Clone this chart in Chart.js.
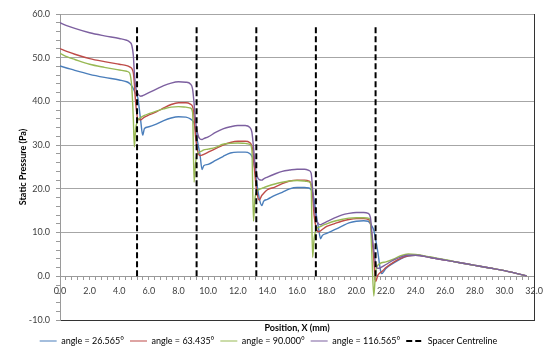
<!DOCTYPE html>
<html>
<head>
<meta charset="utf-8">
<script src="https://cdn.jsdelivr.net/npm/chart.js@4/dist/chart.umd.min.js"></script>
<style>
  html, body { margin: 0; padding: 0; background: #fff; }
  #wrap { width: 549px; height: 358px; position: relative; }
</style>
</head>
<body>
<div id="wrap"><canvas id="pressureChart"></canvas></div>
<script>
// posições ao longo do canal (mm), comuns às quatro séries
const positionMm = [
  0, 0.5, 1.0, 2.0, 3.0, 4.0, 4.5, 4.7, 4.85, 4.95, 5.02, 5.1, 5.25, 5.45, 5.58, 5.7,
  6.0, 6.5, 7.0, 7.5, 8.0, 8.5, 8.8, 8.95, 9.05, 9.15, 9.3, 9.45, 9.59, 9.7,
  10.0, 10.5, 11.0, 11.5, 12.0, 12.5, 12.8, 12.95, 13.06, 13.15, 13.3, 13.45, 13.62, 13.75,
  14.0, 14.5, 15.0, 15.5, 16.0, 16.5, 16.8, 16.95, 17.05, 17.15, 17.3, 17.45, 17.59, 17.7,
  18.0, 18.5, 19.0, 19.5, 20.0, 20.5, 20.8, 20.95, 21.05, 21.18, 21.3, 21.45, 21.6, 21.7,
  22.0, 22.5, 23.0, 23.5, 24.0, 25.0, 26.0, 27.0, 28.0, 29.0, 30.0, 31.0, 31.5
];

// pressão estática (Pa) para cada ângulo
const angle26 = [
  48.1, 47.6, 47.1, 46.2, 45.5, 44.9, 44.5, 44.1, 43.5, 42.9, 42.4, 41.8, 40.8, 35.5, 32.3, 33.8,
  34.2, 34.8, 35.6, 36.2, 36.5, 36.4, 36.0, 35.6, 35.0, 33.5, 30.5, 27.8, 24.4, 25.3,
  25.6, 26.5, 27.4, 28.2, 28.4, 28.4, 28.1, 27.5, 26.5, 24.5, 21.0, 17.8, 16.2, 17.2,
  17.6, 18.5, 19.2, 20.0, 20.3, 20.3, 20.2, 19.8, 19.2, 17.5, 14.0, 11.0, 8.6, 9.3,
  9.8, 10.6, 11.4, 12.2, 12.6, 12.7, 12.6, 12.0, 11.5, 10.5, 8.5, 5.6, 2.0, 0.6,
  1.8, 3.0, 4.0, 4.6, 4.8, 4.3, 3.7, 3.1, 2.5, 1.9, 1.3, 0.5, 0.1
];
const angle63 = [
  52.1, 51.4, 50.8, 49.8, 49.1, 48.5, 48.2, 47.9, 47.5, 46.5, 44.0, 40.0, 36.0, 35.8, 36.1, 36.4,
  36.9, 37.6, 38.5, 39.3, 39.7, 39.7, 39.4, 38.8, 36.5, 32.0, 28.5, 27.6, 27.7, 27.9,
  28.4, 29.2, 30.0, 30.6, 30.9, 30.9, 30.6, 29.8, 27.5, 23.5, 19.0, 17.4, 18.5, 19.0,
  19.8, 20.4, 21.2, 21.8, 22.0, 22.0, 21.8, 21.0, 18.5, 14.0, 11.0, 10.2, 10.4, 10.7,
  11.4, 12.0, 12.6, 13.0, 13.2, 13.2, 13.0, 12.2, 9.0, 4.0, -1.2, 0.2, 0.8, 1.0,
  2.0, 3.2, 4.1, 4.7, 4.8, 4.3, 3.7, 3.1, 2.5, 1.9, 1.3, 0.5, 0.1
];
const angle90 = [
  51.0, 50.2, 49.6, 48.5, 47.8, 47.2, 46.9, 46.5, 43.0, 36.0, 29.6, 33.5, 35.7, 36.3, 36.6, 36.8,
  37.2, 37.8, 38.3, 38.7, 38.8, 38.7, 38.5, 37.5, 21.5, 26.0, 28.2, 28.5, 28.7, 28.9,
  29.1, 29.5, 30.2, 30.4, 30.5, 30.4, 30.2, 29.0, 12.6, 17.5, 19.5, 19.9, 20.1, 20.3,
  20.6, 21.1, 21.5, 21.8, 21.9, 21.8, 21.6, 20.8, 4.3, 8.5, 10.8, 11.2, 11.4, 11.6,
  12.0, 12.6, 13.0, 13.3, 13.4, 13.4, 13.3, 12.5, 5.0, -4.5, 1.0, 2.5, 2.9, 3.1,
  3.3, 3.9, 4.7, 5.1, 5.0, 4.4, 3.8, 3.1, 2.5, 1.9, 1.3, 0.5, 0.1
];
const angle116 = [
  58.0, 57.3, 56.7, 55.7, 55.0, 54.4, 54.0, 53.6, 52.8, 50.5, 46.5, 43.5, 41.8, 41.2, 41.3, 41.5,
  42.0, 42.8, 43.6, 44.2, 44.5, 44.4, 44.0, 42.8, 39.5, 35.5, 32.5, 31.4, 31.3, 31.5,
  31.9, 32.9, 33.7, 34.2, 34.5, 34.5, 34.1, 33.0, 29.6, 26.0, 23.0, 22.1, 22.0, 22.3,
  22.7, 23.4, 24.0, 24.3, 24.5, 24.5, 24.2, 23.6, 20.0, 16.0, 13.0, 12.0, 11.8, 12.0,
  12.5, 13.3, 14.0, 14.4, 14.6, 14.6, 14.4, 13.5, 10.0, 6.0, 3.0, 1.8, 1.9, 2.1,
  2.7, 3.7, 4.4, 4.8, 4.8, 4.3, 3.7, 3.1, 2.5, 1.9, 1.3, 0.5, 0.1
];

// linhas de centro dos espaçadores
const spacerX = [5.2, 9.22, 13.25, 17.27, 21.3];
const spacerTop = 57;

const FONT = 'Lato, "Open Sans", sans-serif';
const AXIS_GREY = '#9a9a9a';

function toPoints(values) {
    return positionMm.map((x, i) => ({ x: x, y: values[i] }));
}

function spacerPoints() {
    const pts = [];
    spacerX.forEach(x => {
        pts.push({ x: x, y: 0 }, { x: x, y: spacerTop }, { x: x, y: null });
    });
    return pts;
}

function series(label, values, color, order) {
    return {
        label: label,
        data: toPoints(values),
        borderColor: color,
        backgroundColor: color,
        borderWidth: 1.4,
        pointRadius: 0,
        cubicInterpolationMode: 'monotone',
        order: order
    };
}

// legenda com o traço tracejado e a espessura de cada série
function legendLabels(chart) {
    const items = Chart.defaults.plugins.legend.labels.generateLabels(chart);
    items.forEach(item => {
        const ds = chart.data.datasets[item.datasetIndex];
        item.lineDash = ds.borderDash || [];
        item.lineWidth = ds.borderWidth > 1.5 ? 2 : 1.2;
    });
    return items;
}

const ctx = document.getElementById('pressureChart').getContext('2d');

new Chart(ctx, {
    type: 'line',
    data: {
        datasets: [
            series('angle = 26.565°', angle26, '#4a7ebb', 5),
            series('angle = 63.435°', angle63, '#be4b48', 4),
            series('angle = 90.000°', angle90, '#98b954', 3),
            series('angle = 116.565°', angle116, '#7d60a0', 2),
            {
                label: 'Spacer Centreline',
                data: spacerPoints(),
                borderColor: '#000',
                backgroundColor: '#000',
                borderWidth: 2,
                borderDash: [6, 3],
                pointRadius: 0,
                spanGaps: false,
                order: 1
            }
        ]
    },
    options: {
        responsive: true,
        maintainAspectRatio: false,
        animation: false,
        layout: { padding: { top: 14, right: 12, left: 0, bottom: 2.5 } },
        plugins: {
            legend: {
                position: 'bottom',
                labels: {
                    usePointStyle: true,
                    pointStyle: 'line',
                    pointStyleWidth: 17,
                    boxHeight: 9,
                    padding: 6,
                    color: '#000',
                    font: { family: FONT, size: 9 },
                    generateLabels: legendLabels,
                    sort: (a, b) => a.datasetIndex - b.datasetIndex
                }
            },
            tooltip: { enabled: false }
        },
        scales: {
            x: {
                type: 'linear',
                position: { y: 0 },
                min: 0,
                max: 32,
                ticks: {
                    stepSize: 0.4,
                    autoSkip: false,
                    maxRotation: 0,
                    padding: 6,
                    color: '#404040',
                    font: { family: FONT, size: 9 },
                    callback: v => Math.abs(v / 2 - Math.round(v / 2)) < 1e-6 ? v.toFixed(1) : ''
                },
                grid: { drawOnChartArea: false, tickLength: 3, color: AXIS_GREY },
                border: { color: AXIS_GREY }
            },
            xFrame: {
                type: 'linear',
                position: 'bottom',
                min: 0,
                max: 32,
                ticks: { display: false },
                grid: { display: false },
                border: { color: '#333', width: 1 },
                title: {
                    display: true,
                    text: 'Position, X (mm)',
                    color: '#000',
                    font: { family: FONT, size: 9, weight: 'bold' },
                    padding: { top: 0, bottom: -2.9 }
                },
                afterFit: scale => { scale.height = 10.5; }
            },
            y: {
                type: 'linear',
                position: 'left',
                min: -10,
                max: 60,
                ticks: {
                    stepSize: 2,
                    autoSkip: false,
                    padding: 6,
                    color: '#404040',
                    font: { family: FONT, size: 9 },
                    callback: v => v % 10 === 0 ? v.toFixed(1) : ''
                },
                grid: {
                    color: c => (c.tick && c.tick.value % 10 === 0) ? '#a6a6a6' : 'rgba(0,0,0,0)',
                    tickColor: AXIS_GREY,
                    tickLength: 4
                },
                border: { color: AXIS_GREY },
                title: {
                    display: true,
                    text: 'Static Pressure (Pa)',
                    color: '#000',
                    font: { family: FONT, size: 9, weight: 'bold' },
                    padding: { top: 17.5, bottom: 0 }
                },
                afterFit: scale => { scale.width = 60; }
            },
            yFrame: {
                type: 'linear',
                position: 'right',
                min: -10,
                max: 60,
                ticks: { display: false },
                grid: { display: false },
                border: { color: '#333', width: 1 },
                afterFit: scale => { scale.width = 0; }
            }
        }
    }
});
</script>
</body>
</html>
